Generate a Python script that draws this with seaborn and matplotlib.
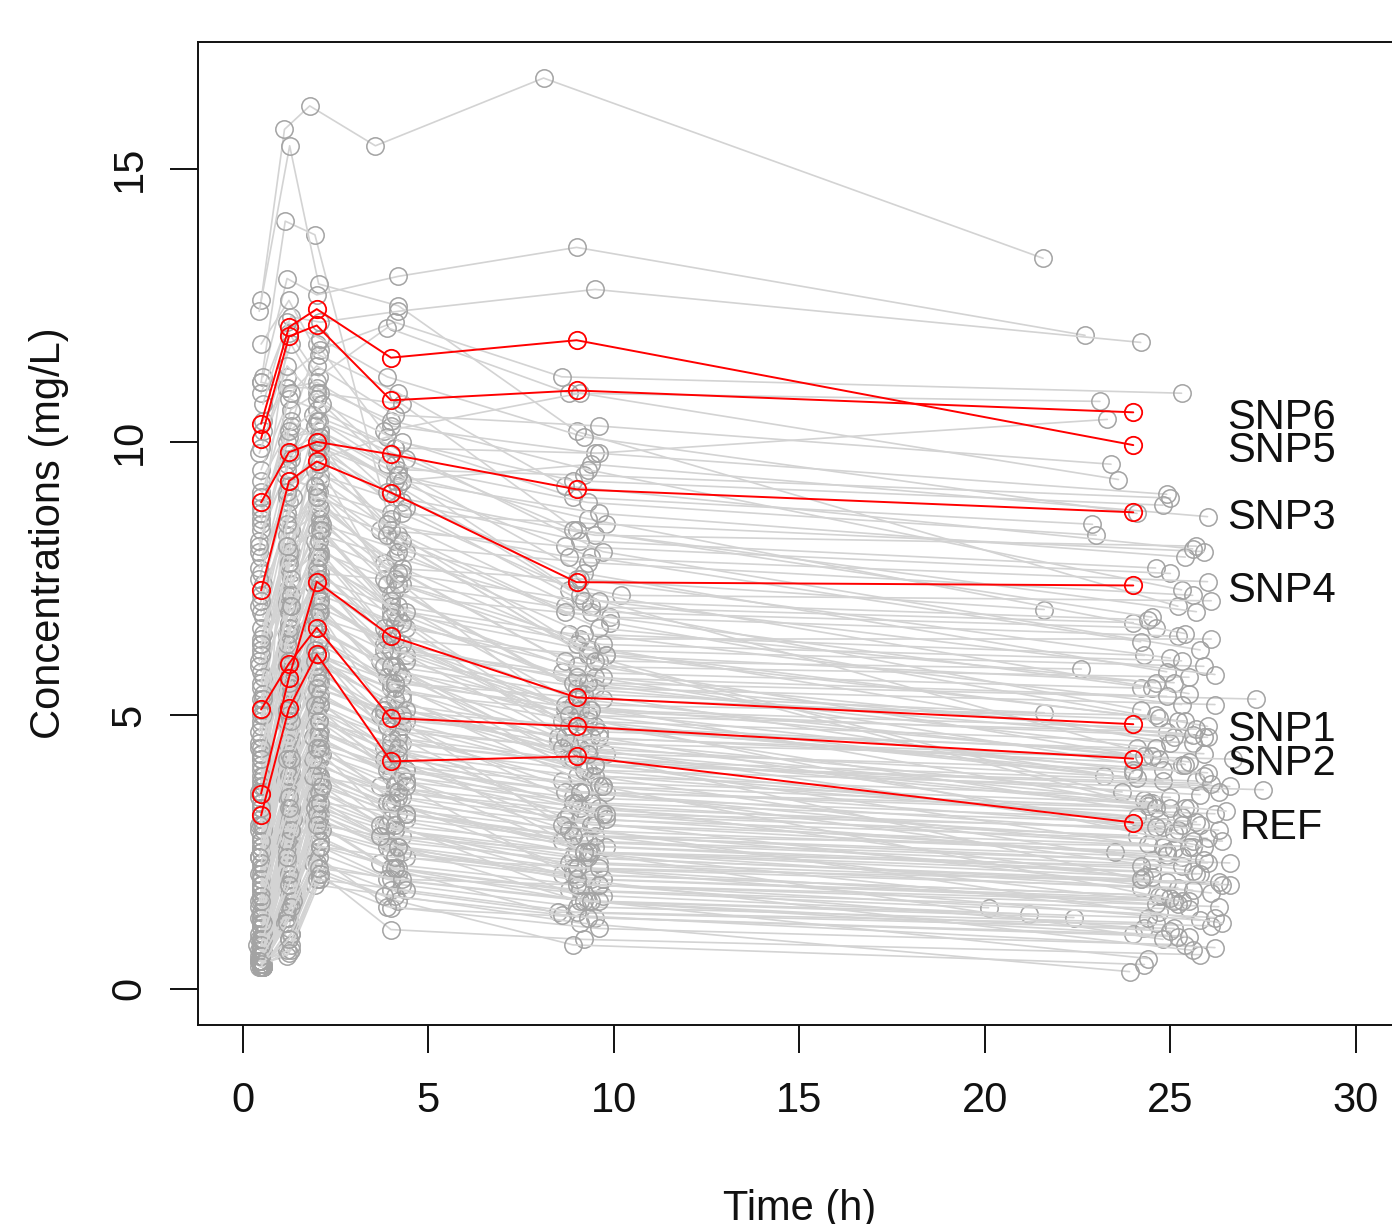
import matplotlib
matplotlib.use("Agg")
import matplotlib.pyplot as plt
import numpy as np
import pandas as pd
import seaborn as sns

# ---------------- data ----------------
SNP_TIMES = [0.5, 1.25, 2, 4, 9, 24]
SNP_LABELS = ["SNP6", "SNP5", "SNP3", "SNP4", "SNP1", "SNP2", "REF"]
SNP_CONC = [
    [10.07, 11.94, 12.14, 10.77, 10.95, 10.55],
    [10.34, 12.11, 12.44, 11.55, 11.87, 9.95],
    [8.90, 9.82, 10.01, 9.78, 9.14, 8.72],
    [7.29, 9.29, 9.65, 9.08, 7.44, 7.38],
    [3.57, 5.69, 7.45, 6.45, 5.33, 4.84],
    [5.11, 5.95, 6.61, 4.95, 4.80, 4.21],
    [3.17, 5.13, 6.12, 4.16, 4.25, 3.04],
]

GRAY_TIME = [
    [0.5, 1.13, 1.81, 3.58, 8.11, 21.57],
    [0.5, 1.15, 1.95, 4.1, 9.3, 24.5],
    [0.45, 1.27, 2.05, 4.2, 9.0, 25.2],
    [0.55, 1.2, 2.0, 4.2, 9.0, 22.7],
    [0.5, 1.3, 2.1, 4.2, 9.5, 24.2],
    [0.45, 1.2, 2.1, 4.1, 8.6, 25.3],
    [0.5, 1.25, 2.05, 3.9, 8.8, 23.1],
    [0.55, 1.2, 2.0, 4.0, 9.5, 23.3],
    [0.5, 1.3, 2.0, 3.8, 9.1, 23.6],
    [0.5, 1.2, 1.9, 4.1, 9.6, 24.9],
    [0.45, 1.25, 2.1, 4.2, 9.2, 25.0],
    [0.5, 1.3, 2.0, 4.3, 9.4, 26.0],
    [0.5, 1.2, 2.1, 3.9, 8.9, 22.9],
    [0.55, 1.25, 2.0, 4.1, 9.5, 25.7],
    [0.5, 1.15, 2.05, 4.0, 9.8, 25.9],
    [0.5, 1.3, 2.1, 4.3, 9.1, 24.6],
    [0.45, 1.2, 2.0, 3.7, 8.7, 25.0],
    [0.5, 1.25, 1.95, 4.2, 9.3, 25.6],
    [0.5, 1.3, 2.1, 4.4, 10.2, 26.1],
    [0.55, 1.2, 2.0, 3.9, 9.0, 21.6],
    [0.5, 1.2, 2.1, 4.1, 8.7, 24.0],
    [0.45, 1.3, 2.05, 4.3, 9.4, 24.6],
    [0.5, 1.25, 2.0, 4.0, 9.9, 25.2],
    [0.5, 1.2, 2.1, 3.8, 9.1, 26.1],
    [0.55, 1.3, 2.0, 4.2, 8.8, 24.3],
    [0.5, 1.2, 1.9, 4.0, 9.3, 25.9],
    [0.45, 1.25, 2.1, 4.4, 9.6, 22.6],
    [0.5, 1.3, 2.05, 4.1, 9.0, 25.5],
    [0.5, 1.2, 2.0, 3.9, 9.8, 25.1],
    [0.55, 1.25, 2.1, 4.2, 8.6, 24.2],
    [0.5, 1.3, 2.0, 4.3, 9.2, 27.3],
    [0.5, 1.2, 1.95, 3.7, 9.5, 26.2],
    [0.45, 1.25, 2.1, 4.0, 9.1, 21.6],
    [0.5, 1.3, 2.0, 4.2, 8.9, 24.6],
    [0.5, 1.2, 2.05, 4.1, 9.7, 25.4],
    [0.55, 1.25, 2.1, 3.9, 9.3, 24.9],
    [0.5, 1.3, 2.0, 4.3, 8.7, 26.0],
    [0.5, 1.2, 1.95, 4.0, 9.0, 25.6],
    [0.45, 1.2, 2.1, 4.2, 9.6, 24.1],
    [0.5, 1.3, 2.0, 3.8, 9.2, 25.9],
    [0.5, 1.25, 2.05, 4.1, 8.5, 26.7],
    [0.55, 1.2, 2.0, 4.4, 9.4, 25.3],
    [0.5, 1.3, 2.1, 3.9, 9.8, 24.8],
    [0.5, 1.2, 1.9, 4.2, 9.1, 23.2],
    [0.45, 1.25, 2.0, 4.0, 8.8, 25.7],
    [0.5, 1.3, 2.1, 4.3, 9.5, 26.6],
    [0.5, 1.2, 2.05, 3.8, 9.3, 27.5],
    [0.55, 1.25, 2.0, 4.1, 9.0, 25.0],
    [0.5, 1.3, 2.1, 4.2, 8.6, 24.4],
    [0.5, 1.2, 1.95, 3.9, 9.7, 25.5],
    [0.45, 1.25, 2.0, 4.4, 9.2, 26.2],
    [0.5, 1.3, 2.05, 4.0, 8.9, 24.7],
    [0.5, 1.2, 2.1, 4.2, 9.4, 25.8],
    [0.55, 1.25, 2.0, 3.7, 9.6, 25.2],
    [0.5, 1.3, 1.9, 4.1, 8.8, 24.1],
    [0.5, 1.2, 2.1, 4.3, 9.1, 26.4],
    [0.45, 1.2, 2.05, 3.9, 9.5, 25.6],
    [0.5, 1.3, 2.0, 4.0, 9.0, 24.9],
    [0.5, 1.25, 2.1, 4.2, 8.7, 25.3],
    [0.55, 1.2, 1.95, 4.4, 9.3, 26.6],
    [0.5, 1.3, 2.0, 3.8, 9.8, 24.5],
    [0.5, 1.2, 2.1, 4.1, 9.2, 25.7],
    [0.45, 1.25, 2.05, 4.3, 8.9, 24.2],
    [0.5, 1.3, 2.0, 3.9, 9.6, 26.6],
    [0.5, 1.2, 1.9, 4.2, 9.0, 25.2],
    [0.55, 1.25, 2.1, 4.0, 8.6, 24.8],
    [0.5, 1.3, 2.0, 4.4, 9.4, 25.5],
    [0.5, 1.2, 2.05, 3.7, 9.1, 26.3],
    [0.45, 1.2, 2.1, 4.1, 8.8, 20.1],
    [0.5, 1.3, 2.0, 4.2, 9.7, 21.2],
    [0.5, 1.25, 1.95, 3.9, 9.3, 22.4],
    [0.55, 1.2, 2.1, 4.3, 9.0, 24.6],
    [0.5, 1.3, 2.0, 4.0, 8.5, 25.1],
    [0.5, 1.2, 2.05, 4.0, 9.5, 24.0],
    [0.5, 1.25, 2.1, 4.0, 9.2, 25.8],
    [0.45, 1.3, 2.0, 4.2, 8.9, 24.3],
    [0.5, 1.2, 1.95, 4.1, 9.1, 23.9],
    [0.5, 1.3, 2.1, 3.9, 9.6, 25.4],
    [0.5, 1.2, 2.0, 4.0, 9.3, 25.3],
    [0.55, 1.3, 2.1, 4.3, 9.0, 24.5],
    [0.5, 1.25, 2.0, 4.1, 9.7, 25.8],
    [0.5, 1.2, 2.05, 3.9, 9.2, 24.9],
    [0.45, 1.3, 2.1, 4.2, 8.8, 25.5],
    [0.5, 1.25, 2.0, 4.4, 9.4, 24.2],
    [0.5, 1.2, 1.95, 4.0, 9.9, 26.0],
    [0.55, 1.3, 2.1, 4.2, 9.0, 25.0],
    [0.5, 1.2, 2.0, 3.8, 8.7, 24.7],
    [0.5, 1.25, 2.05, 4.3, 9.5, 25.9],
    [0.45, 1.3, 2.1, 4.1, 9.2, 26.3],
    [0.5, 1.2, 2.0, 4.0, 9.1, 24.4],
    [0.5, 1.25, 1.95, 4.2, 8.6, 25.3],
    [0.55, 1.3, 2.1, 3.9, 9.6, 24.8],
    [0.5, 1.2, 2.0, 4.4, 9.3, 26.0],
    [0.5, 1.25, 2.05, 4.1, 8.9, 25.1],
    [0.45, 1.3, 2.1, 4.0, 9.4, 24.5],
    [0.5, 1.2, 2.0, 4.3, 9.8, 25.6],
    [0.5, 1.25, 1.95, 3.8, 9.0, 24.9],
    [0.55, 1.3, 2.1, 4.2, 8.7, 26.1],
    [0.5, 1.2, 2.0, 4.0, 9.5, 25.2],
    [0.5, 1.25, 2.05, 4.4, 9.2, 24.7],
    [0.45, 1.3, 2.1, 4.1, 8.9, 25.8],
    [0.5, 1.2, 2.0, 3.9, 9.6, 24.3],
    [0.5, 1.25, 1.95, 4.2, 9.1, 25.5],
    [0.55, 1.3, 2.1, 4.0, 8.6, 26.2],
    [0.5, 1.2, 2.1, 4.2, 9.3, 25.4],
    [0.5, 1.25, 2.0, 4.3, 9.6, 24.6],
    [0.45, 1.3, 2.05, 3.9, 9.0, 25.1],
    [0.5, 1.2, 2.1, 4.1, 8.8, 26.0],
    # second batch
    [0.5, 1.25, 2.0, 4.1, 8.9, 24.6],
    [0.5, 1.3, 2.1, 4.3, 9.4, 25.2],
    [0.45, 1.2, 2.0, 3.8, 9.1, 24.0],
    [0.55, 1.35, 2.15, 4.0, 9.7, 25.9],
    [0.5, 1.15, 1.9, 4.2, 8.5, 23.7],
    [0.5, 1.25, 2.1, 4.4, 9.3, 24.8],
    [0.4, 1.3, 2.0, 3.9, 9.0, 25.4],
    [0.5, 1.2, 2.05, 4.1, 8.8, 24.3],
    [0.5, 1.3, 2.1, 4.3, 9.5, 25.7],
    [0.55, 1.25, 1.95, 3.7, 9.2, 24.1],
    [0.5, 1.2, 2.0, 4.0, 8.7, 25.1],
    [0.45, 1.35, 2.1, 4.2, 9.6, 26.3],
    [0.5, 1.25, 2.05, 4.4, 9.1, 24.4],
    [0.5, 1.15, 2.0, 3.8, 8.9, 25.6],
    [0.55, 1.3, 2.15, 4.1, 9.4, 24.9],
    [0.5, 1.2, 1.9, 4.3, 9.8, 23.5],
    [0.5, 1.25, 2.1, 3.9, 8.6, 25.3],
    [0.45, 1.3, 2.0, 4.2, 9.2, 26.0],
    [0.5, 1.2, 2.05, 4.0, 9.0, 24.5],
    [0.5, 1.35, 2.1, 4.4, 9.5, 25.8],
    [0.55, 1.25, 1.95, 3.7, 8.8, 24.2],
    [0.5, 1.2, 2.0, 4.1, 9.3, 26.4],
    [0.5, 1.3, 2.15, 4.3, 9.7, 25.0],
    [0.45, 1.15, 2.05, 3.9, 8.9, 24.7],
    [0.5, 1.25, 2.1, 4.2, 9.1, 25.5],
    [0.5, 1.3, 1.9, 4.0, 9.6, 24.4],
    [0.55, 1.2, 2.0, 4.4, 9.0, 26.1],
    [0.5, 1.25, 2.1, 3.8, 9.3, 25.2],
    [0.5, 1.2, 2.0, 4.2, 9.2, 25.3],
    [0.45, 1.3, 2.1, 4.0, 8.7, 24.5],
    [0.5, 1.25, 2.05, 4.3, 9.6, 26.2],
    [0.55, 1.2, 1.95, 3.9, 9.1, 25.0],
    [0.5, 1.35, 2.1, 4.1, 9.4, 24.2],
    [0.5, 1.2, 2.0, 4.4, 8.9, 25.7],
    [0.45, 1.25, 2.15, 4.2, 9.8, 24.7],
    [0.5, 1.3, 2.0, 3.8, 9.0, 25.5],
    [0.5, 1.2, 2.1, 4.0, 9.3, 24.1],
    [0.55, 1.25, 2.05, 4.3, 8.6, 26.5],
    [0.5, 1.3, 1.95, 4.1, 9.5, 25.3],
    [0.45, 1.2, 2.0, 3.9, 9.1, 24.8],
    [0.5, 1.25, 2.1, 4.2, 9.7, 25.9],
    [0.5, 1.3, 2.05, 4.4, 8.8, 24.3],
    [0.55, 1.2, 1.9, 4.0, 9.4, 25.6],
    [0.5, 1.25, 2.15, 3.7, 9.0, 24.6],
    [0.45, 1.35, 2.0, 4.2, 9.6, 26.2],
    [0.5, 1.2, 2.1, 4.1, 9.2, 25.0],
    [0.5, 1.25, 2.0, 4.3, 8.7, 24.5],
    [0.55, 1.3, 2.05, 4.0, 9.3, 25.6],
    [0.5, 1.2, 2.1, 3.8, 9.5, 24.0],
    [0.5, 1.25, 1.95, 4.4, 8.9, 25.8],
    [0.5, 1.3, 2.0, 4.1, 9.3, 23.0],
    [0.45, 1.2, 2.1, 4.3, 9.6, 25.4],
    [0.5, 1.25, 2.0, 3.9, 8.8, 26.0],
    [0.55, 1.3, 2.05, 4.2, 9.2, 24.4],
    [0.5, 1.2, 2.1, 4.4, 9.7, 25.3],
    [0.5, 1.25, 1.95, 3.8, 9.0, 24.9],
    [0.45, 1.3, 2.1, 4.1, 9.4, 25.7],
    [0.5, 1.2, 2.0, 4.3, 8.7, 24.3],
    [0.5, 1.25, 2.05, 4.0, 9.5, 26.1],
    [0.55, 1.3, 2.1, 3.9, 9.1, 25.0],
    [0.5, 1.2, 1.9, 4.2, 9.8, 24.6],
    [0.5, 1.25, 2.1, 4.4, 8.9, 25.5],
    [0.45, 1.3, 2.0, 3.7, 9.3, 24.2],
    [0.5, 1.2, 2.1, 4.1, 9.6, 26.3],
    [0.5, 1.25, 2.05, 4.3, 9.0, 25.1],
    [0.5, 1.2, 2.0, 4.2, 9.1, 25.4],
    [0.5, 1.3, 2.1, 3.9, 9.5, 24.6],
    [0.45, 1.25, 1.95, 4.1, 8.8, 25.9],
    [0.5, 1.2, 2.1, 4.3, 9.3, 24.2],
    [0.55, 1.3, 2.0, 4.0, 9.7, 25.3],
    [0.5, 1.25, 2.05, 3.8, 8.6, 26.4],
    [0.5, 1.2, 2.1, 4.2, 9.2, 24.8],
    [0.45, 1.3, 1.95, 4.4, 9.0, 25.6],
    [0.5, 1.25, 2.0, 4.1, 9.4, 24.4],
    [0.5, 1.25, 2.05, 4.2, 8.7, 25.6],
    [0.55, 1.2, 2.1, 3.9, 9.2, 24.1],
    [0.5, 1.3, 2.0, 4.1, 9.6, 23.4],
    [0.45, 1.25, 2.15, 4.3, 8.9, 24.8],
]

GRAY_CONC = [
    [12.6, 15.73, 16.16, 15.43, 16.67, 13.37],
    [11.1, 14.05, 13.8, 8.2, 6.1, 3.4],
    [12.4, 15.43, 12.9, 12.5, 10.2, 7.0],
    [11.2, 13.0, 12.7, 13.04, 13.57, 11.96],
    [10.9, 12.3, 12.2, 12.4, 12.8, 11.83],
    [9.8, 11.2, 11.7, 12.2, 11.2, 10.9],
    [8.5, 12.0, 11.2, 12.1, 10.9, 10.75],
    [10.4, 11.0, 11.1, 10.3, 9.8, 10.42],
    [9.3, 10.3, 11.8, 10.2, 10.9, 9.32],
    [7.6, 9.6, 10.5, 9.9, 9.8, 9.05],
    [8.0, 10.1, 10.2, 9.5, 9.4, 8.98],
    [9.1, 9.8, 10.0, 9.3, 9.6, 8.64],
    [7.9, 9.0, 9.7, 10.1, 9.0, 8.5],
    [6.8, 8.9, 9.9, 9.0, 8.3, 8.1],
    [8.4, 9.4, 9.1, 8.7, 8.5, 8.0],
    [6.2, 8.2, 9.4, 8.9, 8.2, 7.7],
    [7.0, 8.6, 8.8, 8.4, 8.1, 7.6],
    [5.8, 7.9, 9.2, 8.1, 7.8, 7.2],
    [6.6, 8.0, 8.5, 8.0, 7.2, 7.1],
    [7.4, 8.3, 8.7, 7.7, 7.5, 6.94],
    [5.5, 7.3, 8.3, 7.9, 7.0, 6.7],
    [6.0, 7.6, 8.0, 7.4, 6.9, 6.6],
    [4.9, 7.0, 8.1, 7.2, 6.8, 6.45],
    [6.3, 7.1, 7.6, 7.5, 6.4, 6.4],
    [5.2, 6.8, 7.8, 7.0, 6.5, 6.1],
    [4.6, 6.5, 7.4, 6.9, 6.2, 5.9],
    [5.9, 6.9, 7.2, 6.6, 6.0, 5.85],
    [4.3, 6.2, 7.3, 6.7, 5.9, 5.7],
    [5.0, 6.4, 7.0, 6.4, 6.1, 5.6],
    [3.9, 6.0, 7.1, 6.2, 5.8, 5.5],
    [4.8, 5.9, 6.8, 6.3, 5.6, 5.3],
    [3.6, 5.7, 6.9, 6.0, 5.5, 5.2],
    [4.4, 5.8, 6.5, 5.9, 5.4, 5.05],
    [3.3, 5.5, 6.6, 5.8, 5.2, 5.0],
    [4.1, 5.4, 6.3, 5.6, 5.3, 4.9],
    [3.0, 5.1, 6.4, 5.7, 5.0, 4.7],
    [3.8, 5.2, 6.1, 5.4, 5.1, 4.6],
    [2.8, 4.9, 6.0, 5.5, 4.9, 4.5],
    [3.5, 4.8, 5.9, 5.2, 4.7, 4.4],
    [2.5, 4.6, 5.8, 5.1, 4.8, 4.3],
    [3.2, 4.7, 5.6, 5.0, 4.5, 4.2],
    [2.2, 4.4, 5.5, 4.9, 4.6, 4.1],
    [3.4, 4.5, 5.3, 4.8, 4.3, 4.0],
    [2.0, 4.2, 5.4, 4.7, 4.4, 3.9],
    [2.9, 4.3, 5.1, 4.6, 4.2, 3.8],
    [1.8, 4.0, 5.2, 4.5, 4.1, 3.7],
    [2.6, 4.1, 4.9, 4.4, 4.0, 3.64],
    [1.6, 3.8, 5.0, 4.3, 3.9, 3.5],
    [2.3, 3.9, 4.7, 4.2, 3.8, 3.4],
    [1.4, 3.6, 4.8, 4.1, 3.7, 3.3],
    [2.1, 3.7, 4.5, 4.0, 3.6, 3.2],
    [1.2, 3.4, 4.6, 3.9, 3.5, 3.1],
    [1.9, 3.5, 4.3, 3.8, 3.4, 3.0],
    [1.0, 3.2, 4.4, 3.7, 3.3, 2.9],
    [1.7, 3.3, 4.1, 3.6, 3.2, 2.8],
    [0.9, 3.0, 4.2, 3.5, 3.1, 2.7],
    [1.5, 3.1, 3.9, 3.4, 3.0, 2.6],
    [0.8, 2.8, 4.0, 3.3, 2.9, 2.5],
    [1.3, 2.9, 3.7, 3.2, 2.8, 2.4],
    [0.7, 2.6, 3.8, 3.1, 2.7, 2.3],
    [1.1, 2.7, 3.5, 3.0, 2.6, 2.2],
    [0.6, 2.4, 3.6, 2.9, 2.5, 2.1],
    [1.0, 2.5, 3.3, 2.8, 2.4, 2.0],
    [0.5, 2.2, 3.4, 2.7, 2.3, 1.9],
    [0.8, 2.3, 3.1, 2.6, 2.2, 1.85],
    [0.4, 2.0, 3.2, 2.5, 2.1, 1.7],
    [0.7, 2.1, 2.9, 2.4, 2.0, 1.6],
    [0.5, 1.8, 3.0, 2.3, 1.9, 1.5],
    [0.6, 1.9, 2.7, 2.2, 1.8, 1.48],
    [0.4, 1.6, 2.8, 2.1, 1.7, 1.36],
    [0.5, 1.7, 2.5, 2.0, 1.6, 1.3],
    [0.45, 1.4, 2.6, 1.9, 1.5, 1.2],
    [0.6, 1.5, 2.3, 1.8, 1.4, 1.1],
    [0.4, 1.2, 2.4, 1.48, 1.3, 1.0],
    [0.5, 1.3, 2.1, 1.08, 0.9, 0.62],
    [0.4, 1.0, 2.2, 1.6, 0.8, 0.44],
    [0.45, 0.6, 1.9, 1.7, 1.2, 0.31],
    [0.5, 0.7, 2.0, 1.5, 1.1, 0.8],
    [11.1, 11.0, 11.0, 10.4, 9.5, 7.3],
    [10.2, 11.8, 10.9, 10.7, 8.4, 6.8],
    [9.5, 10.8, 10.6, 9.9, 8.0, 6.2],
    [8.8, 10.0, 10.4, 9.6, 7.6, 5.8],
    [8.2, 9.7, 10.1, 9.2, 7.3, 5.4],
    [7.2, 9.2, 9.8, 8.8, 7.0, 5.1],
    [6.9, 8.7, 9.5, 8.6, 6.7, 4.8],
    [6.5, 8.4, 9.3, 8.3, 6.3, 4.5],
    [5.6, 8.1, 9.0, 7.8, 6.0, 4.2],
    [5.3, 7.7, 8.9, 7.6, 5.7, 3.9],
    [4.7, 7.4, 8.6, 7.3, 5.4, 3.6],
    [4.2, 7.2, 8.4, 7.1, 5.2, 3.35],
    [4.0, 6.7, 8.2, 6.8, 4.9, 3.15],
    [3.7, 6.3, 7.9, 6.5, 4.6, 2.95],
    [3.1, 6.1, 7.7, 6.1, 4.4, 2.75],
    [2.7, 5.6, 7.5, 5.9, 4.2, 2.55],
    [2.4, 5.3, 7.0, 5.6, 3.9, 2.35],
    [2.1, 5.0, 6.7, 5.3, 3.6, 2.15],
    [1.8, 4.6, 6.2, 5.0, 3.4, 1.95],
    [1.5, 4.1, 5.7, 4.6, 3.1, 1.75],
    [1.2, 3.5, 5.3, 4.2, 2.8, 1.55],
    [0.9, 3.0, 4.9, 3.8, 2.5, 1.4],
    [0.7, 2.6, 4.5, 3.4, 2.2, 1.25],
    [0.6, 2.2, 4.0, 3.0, 1.9, 1.1],
    [0.5, 1.9, 3.5, 2.6, 1.6, 0.95],
    [0.4, 1.5, 3.0, 2.2, 1.35, 0.75],
    [2.6, 9.8, 10.2, 9.4, 8.6, 6.5],
    [1.9, 7.8, 9.9, 8.2, 6.6, 5.6],
    [1.3, 6.6, 9.6, 7.4, 5.5, 4.6],
    [0.9, 5.5, 8.0, 6.4, 4.8, 3.95],
    # second batch
    [2.2, 5.2, 7.9, 6.9, 5.6, 4.4],
    [3.4, 6.0, 8.8, 7.7, 6.2, 4.9],
    [1.6, 4.4, 7.2, 6.3, 5.1, 4.0],
    [2.9, 5.8, 8.4, 7.0, 5.7, 4.6],
    [1.1, 3.8, 6.6, 5.8, 4.6, 3.6],
    [2.0, 4.7, 7.1, 6.0, 4.9, 3.8],
    [0.8, 3.3, 6.1, 5.2, 4.3, 3.3],
    [1.4, 4.0, 6.4, 5.5, 4.5, 3.45],
    [0.6, 2.9, 5.6, 4.8, 3.9, 3.05],
    [1.0, 3.6, 5.9, 5.0, 4.0, 3.15],
    [0.5, 2.5, 5.1, 4.4, 3.6, 2.85],
    [0.9, 3.1, 5.4, 4.6, 3.7, 2.9],
    [0.45, 2.1, 4.7, 4.0, 3.3, 2.65],
    [0.7, 2.7, 5.0, 4.2, 3.4, 2.7],
    [0.4, 1.8, 4.3, 3.7, 3.0, 2.45],
    [0.6, 2.3, 4.6, 3.9, 3.1, 2.5],
    [0.4, 1.5, 3.9, 3.4, 2.7, 2.25],
    [0.5, 2.0, 4.1, 3.5, 2.8, 2.3],
    [0.4, 1.3, 3.6, 3.1, 2.5, 2.05],
    [0.5, 1.7, 3.8, 3.2, 2.6, 2.1],
    [0.4, 1.1, 3.3, 2.8, 2.3, 1.85],
    [0.45, 1.4, 3.4, 2.9, 2.4, 1.9],
    [0.4, 1.0, 2.9, 2.5, 2.0, 1.65],
    [0.5, 1.2, 3.1, 2.6, 2.1, 1.7],
    [0.4, 0.9, 2.6, 2.2, 1.8, 1.45],
    [0.45, 0.8, 2.3, 2.0, 1.6, 1.3],
    [0.4, 0.7, 2.0, 1.8, 1.4, 1.15],
    [0.45, 0.65, 2.1, 1.7, 1.3, 0.95],
    [3.9, 7.0, 9.1, 8.0, 6.5, 5.2],
    [4.5, 7.5, 9.6, 8.4, 6.9, 5.5],
    [5.1, 8.0, 10.0, 8.7, 7.1, 5.75],
    [5.7, 8.5, 10.3, 9.1, 7.5, 6.05],
    [6.4, 9.0, 10.1, 9.3, 7.9, 6.35],
    [7.1, 9.5, 10.4, 9.7, 8.4, 6.9],
    [3.6, 6.5, 8.5, 7.4, 6.1, 4.95],
    [2.5, 5.5, 7.7, 6.6, 5.3, 4.15],
    [1.7, 4.9, 7.4, 6.2, 5.0, 3.85],
    [1.2, 4.3, 6.9, 5.7, 4.4, 3.25],
    [3.0, 5.4, 6.2, 5.3, 4.1, 3.0],
    [2.4, 4.5, 5.7, 4.8, 3.6, 2.6],
    [1.9, 3.9, 5.2, 4.3, 3.2, 2.35],
    [1.3, 3.2, 4.6, 3.8, 2.9, 2.05],
    [0.9, 2.7, 4.2, 3.4, 2.5, 1.8],
    [0.6, 2.1, 3.7, 3.0, 2.2, 1.55],
    [0.5, 1.6, 3.2, 2.6, 1.9, 1.3],
    [0.4, 1.3, 2.7, 2.2, 1.6, 1.05],
    [4.3, 6.6, 7.4, 6.3, 5.2, 4.25],
    [5.0, 7.2, 7.9, 6.8, 5.6, 4.65],
    [3.7, 5.9, 6.9, 5.9, 4.8, 3.95],
    [2.7, 5.0, 6.0, 5.1, 4.2, 3.55],
    [8.6, 10.6, 10.9, 9.6, 8.9, 8.3],
    [7.7, 9.1, 9.9, 9.3, 8.7, 7.9],
    [6.1, 7.8, 9.0, 8.5, 7.9, 7.45],
    [5.4, 7.0, 8.2, 7.6, 7.1, 6.75],
    [4.4, 6.3, 7.5, 6.9, 6.3, 6.0],
    [3.6, 5.6, 6.8, 6.2, 5.7, 5.35],
    [3.0, 4.9, 6.1, 5.6, 5.1, 4.75],
    [2.3, 4.2, 5.5, 5.0, 4.6, 4.25],
    [1.7, 3.5, 4.9, 4.5, 4.1, 3.75],
    [1.2, 2.9, 4.4, 4.0, 3.6, 3.3],
    [0.8, 2.4, 3.9, 3.6, 3.2, 2.95],
    [0.6, 1.9, 3.4, 3.2, 2.8, 2.6],
    [0.5, 1.5, 3.0, 2.8, 2.5, 2.25],
    [0.4, 1.2, 2.6, 2.4, 2.2, 1.95],
    [0.45, 0.9, 2.2, 2.0, 1.9, 1.6],
    [9.9, 11.4, 10.8, 9.4, 7.2, 4.1],
    [8.7, 10.4, 10.0, 8.3, 6.0, 3.3],
    [7.5, 9.3, 9.2, 7.5, 5.0, 2.6],
    [6.3, 8.1, 8.4, 6.7, 4.3, 2.0],
    [5.3, 7.0, 7.6, 5.9, 3.7, 1.6],
    [4.2, 6.0, 6.9, 5.1, 3.0, 1.2],
    [3.3, 5.1, 6.1, 4.4, 2.5, 0.9],
    [2.4, 4.2, 5.2, 3.7, 2.0, 0.7],
    [1.6, 3.3, 4.4, 3.0, 1.6, 0.55],
    [11.8, 12.6, 11.6, 10.9, 9.2, 8.05],
    [10.7, 12.2, 11.9, 11.2, 10.1, 8.7],
    [9.0, 10.9, 11.4, 10.5, 10.3, 9.6],
    [8.1, 10.2, 10.7, 10.0, 9.3, 8.85],
]

X_TICKS = [0, 5, 10, 15, 20, 25, 30]
Y_TICKS = [0, 5, 10, 15]
X_LABEL = "Time (h)"
Y_LABEL = "Concentrations (mg/L)"

# ---------------- long-format tables ----------------
gray_rows = []
for i, (ts, cs) in enumerate(zip(GRAY_TIME, GRAY_CONC)):
    for t, c in zip(ts, cs):
        gray_rows.append({"id": i, "time": t, "conc": c})
df_gray = pd.DataFrame(gray_rows)

red_rows = []
for lab, cs in zip(SNP_LABELS, SNP_CONC):
    for t, c in zip(SNP_TIMES, cs):
        red_rows.append({"id": lab, "time": t, "conc": c})
df_red = pd.DataFrame(red_rows)

# ---------------- style ----------------
sns.set_style("ticks")
plt.rcParams["font.family"] = ["Liberation Sans", "DejaVu Sans"]
plt.rcParams["text.color"] = "#111111"
plt.rcParams["axes.labelcolor"] = "#111111"
plt.rcParams["xtick.color"] = "#111111"
plt.rcParams["ytick.color"] = "#111111"

W, H = 1392, 1224
fig = plt.figure(figsize=(W / 100, H / 100), dpi=100)
ax = fig.add_axes([198 / W, 1 - 1025 / H, (1400.5 - 198) / W, (1025 - 42) / H])

sns.lineplot(data=df_gray, x="time", y="conc", units="id", estimator=None,
             sort=False, color="#d3d3d3", lw=1.2, marker="o", ms=12.5,
             mfc="none", mec="#a3a3a3", mew=1.1, legend=False, ax=ax)
sns.lineplot(data=df_red, x="time", y="conc", units="id", estimator=None,
             sort=False, color="#ff0000", lw=1.4, marker="o", ms=12.5,
             mfc="none", mec="#ff0000", mew=1.3, legend=False, ax=ax)

for lab, cs in zip(SNP_LABELS, SNP_CONC):
    ax.text(28.0, cs[-1] - 0.1, lab, ha="center", va="center", fontsize=30,
            color="#111111")

ax.set_xlim(-1.2, 31.2)
ax.set_ylim(-0.667, 17.33)
ax.set_xticks(X_TICKS)
ax.set_yticks(Y_TICKS)
ax.set_xticklabels([str(v) for v in X_TICKS])
ax.set_yticklabels([str(v) for v in Y_TICKS], rotation=90, va="center")
ax.tick_params(axis="both", length=20, width=1.4, labelsize=30, direction="out")
ax.tick_params(axis="x", pad=20)
ax.tick_params(axis="y", pad=15)

for s in ax.spines.values():
    s.set_visible(True)
    s.set_linewidth(1.4)
    s.set_color("#111111")

ax.set_xlabel(X_LABEL, fontsize=30)
ax.set_ylabel(Y_LABEL, fontsize=30)
ax.xaxis.set_label_coords(0.5, -0.167)
ax.yaxis.set_label_coords(-0.1073, 0.5)

fig.savefig("out.png", dpi=100)
